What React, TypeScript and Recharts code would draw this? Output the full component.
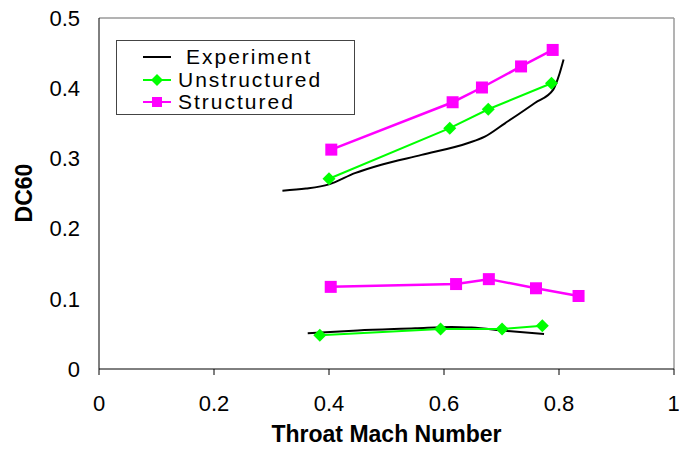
import React from 'react';
import { LineChart, Line, XAxis, YAxis, Legend, ReferenceLine, Label } from 'recharts';

// Throat Mach number vs DC60, two operating groups (upper / lower)
const expHigh = [
  { x: 0.319, y: 0.254 }, { x: 0.36, y: 0.257 }, { x: 0.4, y: 0.263 }, { x: 0.445, y: 0.279 },
  { x: 0.491, y: 0.291 }, { x: 0.561, y: 0.305 }, { x: 0.642, y: 0.322 }, { x: 0.671, y: 0.331 },
  { x: 0.706, y: 0.35 }, { x: 0.758, y: 0.379 }, { x: 0.79, y: 0.398 }, { x: 0.801, y: 0.421 },
  { x: 0.808, y: 0.441 },
];
const expLow = [
  { x: 0.363, y: 0.051 }, { x: 0.45, y: 0.055 }, { x: 0.55, y: 0.058 }, { x: 0.613, y: 0.06 },
  { x: 0.648, y: 0.059 }, { x: 0.706, y: 0.0545 }, { x: 0.774, y: 0.0497 },
];
const unsHigh = [
  { x: 0.4, y: 0.271 }, { x: 0.61, y: 0.343 }, { x: 0.677, y: 0.37 }, { x: 0.787, y: 0.407 },
];
const unsLow = [
  { x: 0.384, y: 0.048 }, { x: 0.594, y: 0.057 }, { x: 0.701, y: 0.057 }, { x: 0.771, y: 0.0615 },
];
const strHigh = [
  { x: 0.404, y: 0.3125 }, { x: 0.615, y: 0.38 }, { x: 0.666, y: 0.401 }, { x: 0.734, y: 0.431 },
  { x: 0.789, y: 0.4545 },
];
const strLow = [
  { x: 0.403, y: 0.117 }, { x: 0.621, y: 0.121 }, { x: 0.678, y: 0.128 }, { x: 0.76, y: 0.115 },
  { x: 0.834, y: 0.104 },
];

const xTicks = [0, 0.2, 0.4, 0.6, 0.8, 1];
const yTicks = [0, 0.1, 0.2, 0.3, 0.4, 0.5];

const GREEN = '#00FF00';
const MAGENTA = '#FF00FF';
const FONT = '"Liberation Sans", Arial, sans-serif';

const Diamond = (props: any) => {
  const { cx, cy } = props;
  if (cx == null || cy == null) return null;
  const r = 6.5;
  return <path d={`M${cx},${cy - r}L${cx + r},${cy}L${cx},${cy + r}L${cx - r},${cy}Z`} fill={GREEN} />;
};

const Square = (props: any) => {
  const { cx, cy } = props;
  if (cx == null || cy == null) return null;
  return <rect x={cx - 6} y={cy - 6} width={12} height={12} fill={MAGENTA} />;
};

const legendItems = [
  { name: 'Experiment', color: '#000', marker: 'none', indent: 8 },
  { name: 'Unstructured', color: GREEN, marker: 'diamond', indent: 0 },
  { name: 'Structured', color: MAGENTA, marker: 'square', indent: 0 },
];

const renderLegend = () => (
  <div style={{ width: 237, height: 68, border: '1px solid #444', background: '#fff', paddingTop: 5, boxSizing: 'content-box' }}>
    {legendItems.map((it) => (
      <div key={it.name} style={{ display: 'flex', alignItems: 'center', height: 22.5, paddingLeft: 26 }}>
        <svg width={28} height={14} style={{ flex: 'none' }}>
          <line x1={0} y1={7} x2={28} y2={7} stroke={it.color} strokeWidth={2} />
          {it.marker === 'diamond' && <path d="M14,1L20,7L14,13L8,7Z" fill={GREEN} />}
          {it.marker === 'square' && <rect x={9} y={2} width={10} height={10} fill={MAGENTA} />}
        </svg>
        <span style={{ marginLeft: 7 + it.indent, fontFamily: FONT, fontSize: 21, letterSpacing: 2, lineHeight: '20px', color: '#000' }}>
          {it.name}
        </span>
      </div>
    ))}
  </div>
);

export default function App() {
  return (
    <div style={{ position: 'absolute', left: 0, top: 0, width: 679, height: 449, background: '#fff' }}>
      <LineChart width={679} height={449} margin={{ top: 18, right: 5, left: 0, bottom: 0 }}>
        <XAxis
          type="number"
          dataKey="x"
          domain={[0, 1]}
          ticks={xTicks}
          allowDuplicatedCategory={false}
          height={80}
          stroke="#000"
          tickSize={6}
          tickMargin={20}
          tick={{ fill: '#000', fontSize: 22, fontFamily: FONT }}
        >
          <Label
            value="Throat Mach Number"
            position="insideBottom"
            offset={7}
            style={{ fill: '#000', fontSize: 23, fontWeight: 'bold', fontFamily: FONT }}
          />
        </XAxis>
        <YAxis
          type="number"
          dataKey="y"
          domain={[0, 0.5]}
          ticks={yTicks}
          width={99}
          stroke="#000"
          tickLine={false}
          tickSize={0}
          tickMargin={19}
          tick={{ fill: '#000', fontSize: 22, fontFamily: FONT }}
        >
          <Label
            content={() => (
              <text
                x={24}
                y={193}
                transform="rotate(-90 24 193)"
                textAnchor="middle"
                dominantBaseline="central"
                style={{ fill: '#000', fontSize: 23, fontWeight: 'bold', fontFamily: FONT }}
              >
                DC60
              </text>
            )}
          />
        </YAxis>
        <ReferenceLine y={0.5} stroke="#9a9a9a" strokeWidth={1.5} />
        <ReferenceLine x={1} stroke="#9a9a9a" strokeWidth={1.5} />
        <Line data={expHigh} dataKey="y" type="monotone" stroke="#000" strokeWidth={2} dot={false} isAnimationActive={false} />
        <Line data={expLow} dataKey="y" type="monotone" stroke="#000" strokeWidth={2} dot={false} isAnimationActive={false} />
        <Line data={unsHigh} dataKey="y" type="linear" stroke={GREEN} strokeWidth={2} dot={<Diamond />} isAnimationActive={false} />
        <Line data={unsLow} dataKey="y" type="linear" stroke={GREEN} strokeWidth={2} dot={<Diamond />} isAnimationActive={false} />
        <Line data={strHigh} dataKey="y" type="linear" stroke={MAGENTA} strokeWidth={2.5} dot={<Square />} isAnimationActive={false} />
        <Line data={strLow} dataKey="y" type="linear" stroke={MAGENTA} strokeWidth={2.5} dot={<Square />} isAnimationActive={false} />
        <Legend
          layout="vertical"
          align="center"
          verticalAlign="middle"
          content={renderLegend}
          wrapperStyle={{ left: 116, top: 40, width: 239, height: 75 }}
        />
      </LineChart>
    </div>
  );
}
